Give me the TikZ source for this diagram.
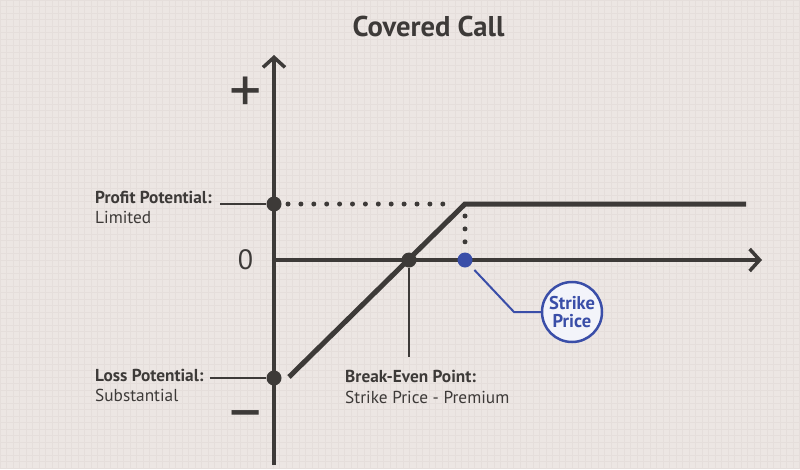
\documentclass[tikz,border=0pt]{standalone}
\usepackage{fontspec}
\setmainfont{PT Sans}
\usetikzlibrary{arrows.meta}
\definecolor{paper}{HTML}{ECE6E3}
\definecolor{gridc}{HTML}{E5DEDB}
\definecolor{ink}{HTML}{3D3A38}
\definecolor{strikeblue}{HTML}{3A4EA8}
\tikzset{
	axis/.style={draw=ink, line width=4.5pt, -{Straight Barb[length=10pt,width=22pt,line width=3.5pt]}},
	payoff/.style={draw=ink, line width=5pt},
	dotline/.style={draw=ink, line width=5pt, line cap=round, dash pattern=on 0pt off 12.9pt},
	leader/.style={draw=ink, line width=2pt},
	blueleader/.style={draw=strikeblue, line width=2pt},
	darkdot/.style={circle, fill=ink, inner sep=0pt, minimum size=15pt},
	bluedot/.style={circle, fill=strikeblue, inner sep=0pt, minimum size=15pt},
	lbl/.style={anchor=west, align=left, inner sep=0pt, text=ink, font=\fontsize{17.3}{20.5}\selectfont},
	bubble/.style={circle, draw=strikeblue, line width=2.5pt, fill=white!94!strikeblue, minimum size=60pt, inner sep=0pt, align=center, text=strikeblue, font=\bfseries\fontsize{18.5}{18}\selectfont}
}
\begin{document}
\begin{tikzpicture}[x=1pt,y=-1pt]
	\useasboundingbox (0,0) rectangle (800,469);
	\fill[paper] (0,0) rectangle (800,469);
	\draw[gridc, line width=0.3pt, step=6.5pt] (0,0) grid (800,469);
	% axes
	\coordinate (ybot) at (274,465);
	\coordinate (ytop) at (274,55);
	\coordinate (x0) at (274,260);
	\coordinate (xend) at (762,260);
	\draw[axis] (ybot) -- (ytop);
	\draw[axis] (x0) -- (xend);
	% payoff
	\coordinate (lo) at (289,377);
	\coordinate (K) at (465,204);
	\coordinate (hi) at (746,204);
	\draw[payoff] (lo) -- (K) -- (hi);
	% points
	\node (P) at (274,204)	[darkdot]	{};
	\node (L) at (274,378)	[darkdot]	{};
	\node (B) at (409,260)	[darkdot]	{};
	\node (S) at (465,260)	[bluedot]	{};
	\draw[dotline, shorten <=14pt, shorten >=10pt] (P.center) -- (K);
	\draw[dotline, shorten <=12pt, shorten >=18pt] (K) -- (S.center);
	% labels
	\node (T) at (428.5,26.5)	[text=ink, font=\bfseries\fontsize{28.6}{32}\selectfont]	{Covered Call};
	\node (plus) at (246,95)	[text=ink, font=\fontsize{64}{64}\selectfont]	{+};
	\node (minus) at (246,423)	[text=ink, font=\fontsize{64}{64}\selectfont]	{−};
	\node (zero) at (245.5,259.5)	[text=ink, font=\fontsize{28}{30}\selectfont]	{0};
	\node (PL) at (95,207.5)	[lbl]	{\textbf{Profit Potential:}\\Limited};
	\node (LL) at (95,385.5)	[lbl]	{\textbf{Loss Potential:}\\Substantial};
	\node (BL) at (345,387)	[lbl]	{\textbf{Break-Even Point:}\\Strike Price - Premium};
	\node (SP) at (572,312)	[bubble]	{Strike\\Price};
	% leaders
	\coordinate (pl) at (220,204);
	\coordinate (ll) at (210,378);
	\coordinate (bl) at (409,357);
	\coordinate (sk) at (514,312);
	\draw[leader] (pl) -- (P);
	\draw[leader] (ll) -- (L);
	\draw[leader] (B) -- (bl);
	\draw[blueleader, shorten <=6pt] (S) -- (sk) -- (SP);
\end{tikzpicture}
\end{document}
